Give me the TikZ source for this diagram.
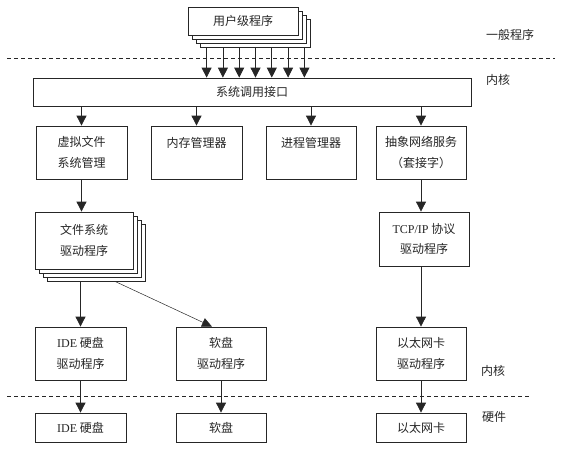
\documentclass[tikz,border=0pt]{standalone}
\usepackage{fontspec}
\setmainfont{Liberation Serif}
\newfontfamily\cjk{Noto Sans CJK SC}
\usetikzlibrary{arrows.meta,calc}
\tikzset{
  box/.style={draw=black!85, line width=0.8pt, fill=white, inner sep=0pt, align=center,
    font=\cjk\fontsize{12}{20.5}\selectfont, text=black!85},
  arr/.style={line width=0.8pt, draw=black!85, -{Triangle[width=10pt,length=10pt]}},
  thinarr/.style={line width=0.5pt, draw=black!85, -{Triangle[width=9pt,length=10pt]}},
  sep/.style={line width=0.8pt, draw=black!85, dash pattern=on 4pt off 3pt},
  lbl/.style={font=\cjk\fontsize{12}{14}\selectfont, text=black!85, inner sep=0pt},
}
\newcommand{\lat}[1]{{\rmfamily #1}}
\begin{document}
\begin{tikzpicture}[x=1pt,y=-1pt]
\useasboundingbox (0,0) rectangle (568,451);
% user programs stack
\node[box, minimum width=110pt, minimum height=28pt] (u3) at (255,33) {};
\node[box, minimum width=110pt, minimum height=28pt] (u2) at (251,29) {};
\node[box, minimum width=110pt, minimum height=28pt] (u1) at (247,25) {};
\node[box, minimum width=110pt, minimum height=28pt] (u0) at (243,21) {用户级程序};
% separators
\draw[sep] (7,58) -- (555,58);
\draw[sep] (7,396) -- (531,396);
% labels
\node[lbl] (l1) at (510,35) {一般程序};
\node[lbl] (l2) at (498,80) {内核};
\node[lbl] (l3) at (493,371) {内核};
\node[lbl] (l4) at (494,417) {硬件};
% system call interface
\node[box, minimum width=438pt, minimum height=28pt] (sys) at (252,92) {系统调用接口};
\foreach \i in {0,...,6}{
  \draw[arr] ([xshift={7+16.3*\i}]u3.south west) -- ([xshift={7+16.3*\i}]u3.south west |- sys.north);
}
% row 2
\node[box, minimum width=91pt, minimum height=53pt] (vfs) at (81.5,152.5) {虚拟文件\\系统管理};
\node[box, minimum width=91pt, minimum height=53pt] (mem) at (196.5,152.5) {内存管理器\\~};
\node[box, minimum width=90pt, minimum height=53pt] (proc) at (311,152.5) {进程管理器\\~};
\node[box, minimum width=90pt, minimum height=53pt] (net) at (421,152.5) {抽象网络服务\\（套接字）};
\draw[arr] (sys.south -| vfs.north) -- (vfs.north);
\draw[arr] (sys.south -| mem.north) -- (mem.north);
\draw[arr] (sys.south -| proc.north) -- (proc.north);
\draw[arr] (sys.south -| net.north) -- (net.north);
% row 3
\node[box, minimum width=98pt, minimum height=57pt] (fs3) at (96,252.5) {};
\node[box, minimum width=98pt, minimum height=57pt] (fs2) at (92,248.5) {};
\node[box, minimum width=98pt, minimum height=57pt] (fs1) at (88,244.5) {};
\node[box, minimum width=98pt, minimum height=57pt] (fs) at (84,240.5) {文件系统\\驱动程序};
\node[box, minimum width=90pt, minimum height=54pt] (tcp) at (424,239) {\lat{TCP/IP} 协议\\驱动程序};
\draw[arr] (vfs.south) -- (vfs.south |- fs.north);
\draw[arr] (net.south) -- (net.south |- tcp.north);
% row 4
\node[box, minimum width=91pt, minimum height=53pt] (ide) at (80.5,353.5) {\lat{IDE} 硬盘\\驱动程序};
\node[box, minimum width=90pt, minimum height=53pt] (fdd) at (221,353.5) {软盘\\驱动程序};
\node[box, minimum width=90pt, minimum height=53pt] (eth) at (421,353.5) {以太网卡\\驱动程序};
\draw[arr] (ide.north |- fs3.south) -- (ide.north);
\draw[thinarr] ([xshift=19pt]fs3.south) -- ([xshift=-9pt]fdd.north);
\draw[arr] (tcp.south -| eth.north) -- (eth.north);
% hardware
\node[box, minimum width=91pt, minimum height=29pt] (ide2) at (80.5,427.5) {\lat{IDE} 硬盘};
\node[box, minimum width=90pt, minimum height=29pt] (fdd2) at (221,427.5) {软盘};
\node[box, minimum width=90pt, minimum height=29pt] (eth2) at (421,427.5) {以太网卡};
\draw[arr] (ide.south) -- (ide2.north);
\draw[arr] (fdd.south) -- (fdd2.north);
\draw[arr] (eth.south) -- (eth2.north);
\end{tikzpicture}
\end{document}
